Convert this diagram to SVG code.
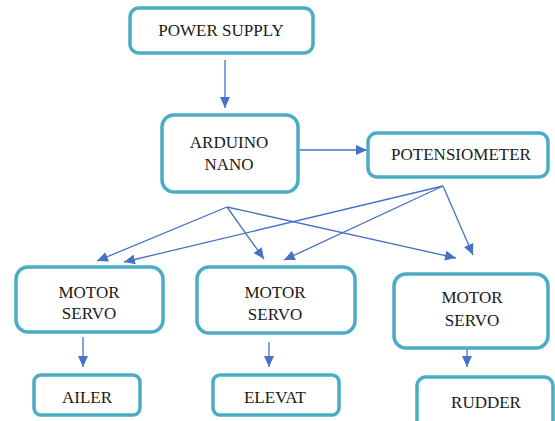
<svg xmlns="http://www.w3.org/2000/svg" width="555" height="421" viewBox="0 0 555 421">
<style>
.box{fill:#fff;stroke:#4BACC6;stroke-width:3.5}
.lbl{font-size:17px;fill:#1a1a1a;text-anchor:middle}
.con{stroke:#4472C4;stroke-width:1.3;fill:none;marker-end:url(#ah)}
</style>
<defs>
<marker id="ah" markerUnits="userSpaceOnUse" markerWidth="12" markerHeight="10" refX="11" refY="5" orient="auto">
<path d="M0,0 L11,5 L0,10 z" fill="#4472C4"/>
</marker>
</defs>
<rect width="555" height="421" fill="#fff"/>
<g id="connectors">
<line class="con" x1="225" y1="60" x2="225" y2="108"/>
<line class="con" x1="298" y1="150" x2="367" y2="150"/>
<line class="con" x1="227" y1="207" x2="97" y2="261"/>
<line class="con" x1="227" y1="207" x2="264" y2="259"/>
<line class="con" x1="227" y1="207" x2="456" y2="258"/>
<line class="con" x1="443" y1="186" x2="124" y2="262"/>
<line class="con" x1="443" y1="186" x2="284" y2="260"/>
<line class="con" x1="443" y1="186" x2="473" y2="255"/>
<line class="con" x1="83" y1="337" x2="83" y2="367"/>
<line class="con" x1="269" y1="342" x2="269" y2="367"/>
<line class="con" x1="467" y1="339" x2="467" y2="367"/>
</g>
<g font-family="Liberation Serif, DejaVu Serif, serif">
<g id="power"><rect class="box" x="130" y="8" width="183" height="45" rx="9"/><text class="lbl" x="221" y="36">POWER SUPPLY</text></g>
<g id="arduino"><rect class="box" x="162" y="115" width="136" height="77" rx="12"/><text class="lbl" x="229" y="148">ARDUINO</text><text class="lbl" x="229" y="170">NANO</text></g>
<g id="pot"><rect class="box" x="368" y="133" width="180" height="44" rx="9"/><text class="lbl" x="461" y="160">POTENSIOMETER</text></g>
<g id="servo1"><rect class="box" x="16" y="267" width="147" height="65" rx="12"/><text class="lbl" x="89" y="298">MOTOR</text><text class="lbl" x="89" y="319">SERVO</text></g>
<g id="servo2"><rect class="box" x="197" y="267" width="158" height="66" rx="12"/><text class="lbl" x="275" y="298">MOTOR</text><text class="lbl" x="275" y="320">SERVO</text></g>
<g id="servo3"><rect class="box" x="394" y="274" width="154" height="74" rx="12"/><text class="lbl" x="472" y="303">MOTOR</text><text class="lbl" x="472" y="326">SERVO</text></g>
<g id="ailer"><rect class="box" x="34" y="375" width="106" height="40" rx="7"/><text class="lbl" x="87" y="403">AILER</text></g>
<g id="elevat"><rect class="box" x="213" y="375" width="126" height="40" rx="7"/><text class="lbl" x="275" y="403">ELEVAT</text></g>
<g id="rudder"><rect class="box" x="417" y="377" width="136" height="60" rx="9"/><text class="lbl" x="486" y="408">RUDDER</text></g>
</g>
</svg>
